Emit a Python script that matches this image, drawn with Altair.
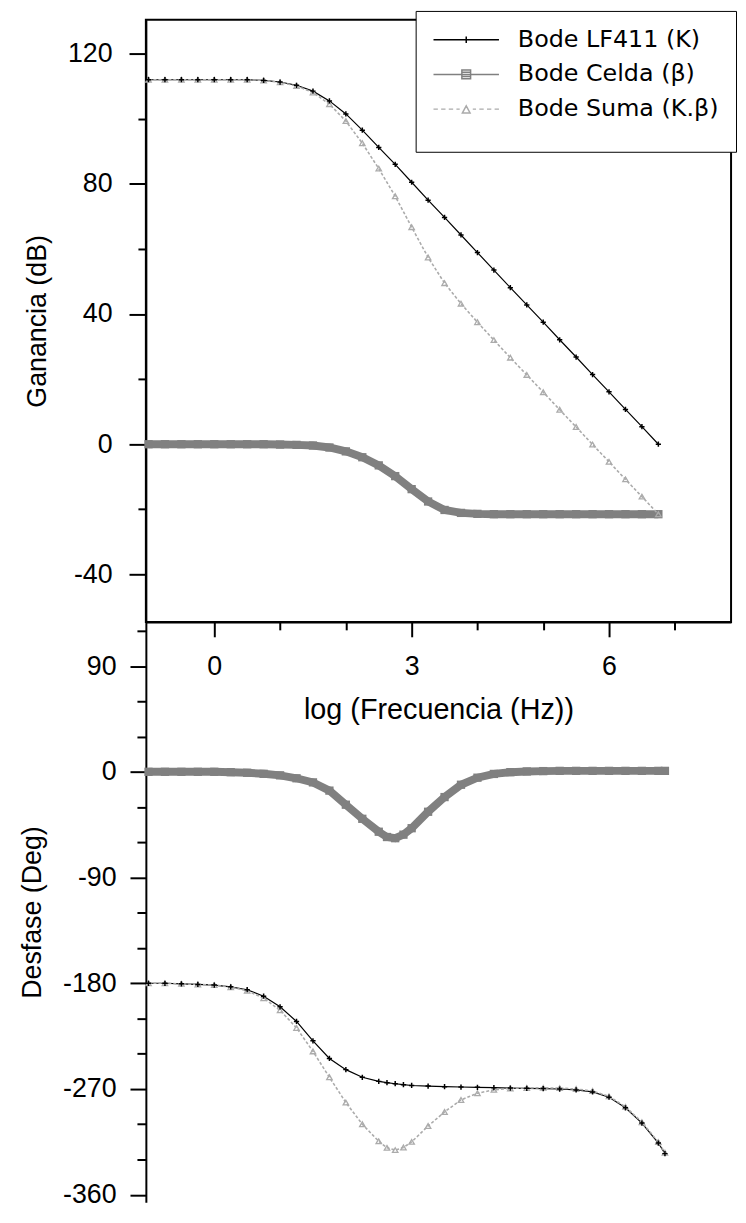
import altair as alt
import pandas as pd

# ---------------- data ----------------
LOG_F = [-1.0, -0.75, -0.5, -0.25, 0.0, 0.25, 0.5, 0.75, 1.0, 1.25, 1.5, 1.75, 2.0, 2.25,
         2.5, 2.75, 3.0, 3.25, 3.5, 3.75, 4.0, 4.25, 4.5, 4.75, 5.0, 5.25, 5.5, 5.75, 6.0,
         6.25, 6.5, 6.75]

GAIN_K = [112, 112, 112, 112, 112, 112, 112, 111.8, 111.3, 110.3, 108.5, 105.5, 101.5, 96.5,
          91.2, 86.0, 80.5, 75.0, 69.7, 64.3, 58.9, 53.5, 48.1, 42.8, 37.5, 32.1, 26.8, 21.4,
          16.1, 10.7, 5.4, 0.0]
GAIN_B = [0.0, 0.0, 0.0, 0.0, 0.0, 0.0, 0.0, 0.0, -0.1, -0.2, -0.4, -1.0, -2.2, -4.0, -6.5,
          -9.8, -13.8, -17.6, -20.2, -21.1, -21.4, -21.5, -21.5, -21.5, -21.5, -21.5, -21.5,
          -21.5, -21.5, -21.5, -21.5, -21.5]
GAIN_KB = [112, 112, 112, 112, 112, 112, 112, 111.8, 111.2, 110.1, 108.1, 104.5, 99.3, 92.5,
           84.7, 76.2, 66.7, 57.4, 49.5, 43.2, 37.5, 32.0, 26.6, 21.3, 16.0, 10.6, 5.3, -0.1,
           -5.4, -10.8, -16.1, -21.5]

LOG_F_PHASE = [-1.0, -0.75, -0.5, -0.25, 0.0, 0.25, 0.5, 0.75, 1.0, 1.25, 1.5, 1.75, 2.0,
               2.25, 2.5, 2.625, 2.75, 2.875, 3.0, 3.25, 3.5, 3.75, 4.0, 4.25, 4.5, 4.75, 5.0,
               5.25, 5.5, 5.75, 6.0, 6.25, 6.5, 6.75, 6.85]
PHASE_K = [-180, -180, -180.5, -181, -181.5, -183, -185.5, -191, -200, -212.5, -229, -244,
           -253.5, -260, -263.5, -264.6, -265.5, -266.3, -267, -267.5, -268, -268.3, -268.6,
           -268.9, -269.2, -269.4, -269.6, -270, -270.8, -272.5, -277, -286, -299, -316, -325]
PHASE_B = [0, 0, 0, 0, 0, -0.3, -0.8, -1.7, -3.0, -5.5, -9.0, -16.0, -28.0, -40.0, -51.0,
           -55.5, -56.5, -53.5, -48.0, -34.0, -21.5, -11.0, -5.0, -1.8, -0.3, 0.3, 0.6, 0.8,
           0.8, 0.8, 0.8, 0.8, 0.8, 0.8, 0.8]
PHASE_KB = [-180, -180, -180.5, -181, -181.5, -183.3, -186.3, -192.7, -203, -218, -238, -260,
            -281.5, -300, -314.5, -320.1, -322, -319.8, -315, -301.5, -289.5, -279.3, -273.6,
            -270.7, -269.5, -269.1, -269, -269.2, -270, -271.7, -276.2, -285.2, -298.2,
            -315.2, -324.2]

SERIES = ["Bode LF411  (K)", "Bode Celda (\u03b2)", "Bode Suma (K.\u03b2)"]
COLORS = ["#000000", "#808080", "#ababab"]

X_TICKS = [0, 1, 2, 3, 4, 5, 6, 7]
Y_GAIN_TICKS = [-40, -20, 0, 20, 40, 60, 80, 100, 120]
Y_PHASE_TICKS = [-360, -330, -300, -270, -240, -210, -180, -150, -120, -90, -60, -30, 0, 30,
                 60, 90, 120]

# legend symbols: line + marker, drawn as custom paths
LEGEND_PATHS = [
    "M-1,0H5M2,-0.3V0.3M1.7,0H2.3",
    "M-1,0H5M1.6,-0.4H2.4V0.4H1.6ZM1.6,-0.2H2.4M1.6,0.2H2.4",
    "M-1,0H-0.6M-0.3,0H0.1M0.4,0H0.8M1.1,0H1.4M1.65,0.35L2,-0.3L2.35,0.35ZM2.6,0H2.9"
    "M3.2,0H3.6M3.9,0H4.3M4.6,0H5",
]


def long_df(xs, cols):
    rows = []
    for name, ys in zip(SERIES, cols):
        for xv, yv in zip(xs, ys):
            rows.append({"x": xv, "y": yv, "series": name})
    return pd.DataFrame(rows)


gain_df = long_df(LOG_F, [GAIN_K, GAIN_B, GAIN_KB])
phase_df = long_df(LOG_F_PHASE, [PHASE_K, PHASE_B, PHASE_KB])

x_scale = alt.Scale(domain=[-1.04, 7.855], nice=False, zero=False)


def series_layers(base):
    k = base.transform_filter(alt.datum.series == SERIES[0])
    b = base.transform_filter(alt.datum.series == SERIES[1])
    kb = base.transform_filter(alt.datum.series == SERIES[2])
    return [
        b.mark_line(color=COLORS[1], strokeWidth=8),
        b.mark_square(color=COLORS[1], size=70, opacity=1),
        k.mark_line(color="black", strokeWidth=1.2),
        kb.mark_line(color=COLORS[2], strokeWidth=1.6, strokeDash=[3, 2]),
        kb.mark_point(shape="triangle-up", size=30, color=COLORS[2], filled=False,
                      strokeWidth=1.3, opacity=1),
        k.mark_point(shape="M-1,0H1M0,-1V1", size=28, color="black", filled=False,
                     strokeWidth=1.5, opacity=1),
    ]


# ---------------- top panel: gain ----------------
x_top = alt.X(
    "x:Q", scale=x_scale,
    axis=alt.Axis(
        values=X_TICKS, title="log (Frecuencia (Hz))",
        labelExpr="datum.value % 3 === 0 ? '' + datum.value : ''",
        tickSize={"condition": {"test": "datum.value % 3 === 0", "value": 15}, "value": 8},
        labelPadding=17, titlePadding=16, labelFlush=False, labelOverlap=False,
        titleFontSize=29,
    ),
)
y_top = alt.Y(
    "y:Q", scale=alt.Scale(domain=[-54.6, 130.4], nice=False, zero=False),
    axis=alt.Axis(
        values=Y_GAIN_TICKS, title="Ganancia (dB)",
        labelExpr="datum.value % 40 === 0 ? '' + datum.value : ''",
        tickSize={"condition": {"test": "datum.value % 40 === 0", "value": 17}, "value": 8},
        labelPadding=17, titlePadding=16, labelOverlap=False,
    ),
)
gain_base = alt.Chart(gain_df).encode(x=x_top, y=y_top)

leg = alt.Legend(
    title=" ", titleOrient="bottom", titleFontSize=14, titlePadding=0,
    orient="none", legendX=272, legendY=-9,
    strokeColor="black", fillColor="white", padding=17,
    labelFont="DejaVu Sans", labelFontSize=24, labelColor="black", labelLimit=400,
    symbolSize=484, symbolStrokeWidth=1.5, labelOffset=62, rowPadding=11,
)
legend_layer = gain_base.transform_filter("false").mark_point(
    filled=False, strokeWidth=1.5, opacity=1
).encode(
    shape=alt.Shape("series:N", scale=alt.Scale(domain=SERIES, range=LEGEND_PATHS), legend=leg),
    color=alt.Color("series:N", scale=alt.Scale(domain=SERIES, range=COLORS), legend=leg),
)

top = alt.layer(*series_layers(gain_base), legend_layer).properties(
    width=590, height=607,
    view=alt.ViewBackground(stroke="black", strokeWidth=2),
)

# ---------------- bottom panel: phase ----------------
y_bot = alt.Y(
    "y:Q", scale=alt.Scale(domain=[-366.3, 127.6], nice=False, zero=False),
    axis=alt.Axis(
        values=Y_PHASE_TICKS, title="Desfase (Deg)",
        labelExpr="datum.value % 90 === 0 ? '' + datum.value : ''",
        tickSize={"condition": {"test": "datum.value % 90 === 0", "value": 16}, "value": 9},
        labelPadding=14, titlePadding=16, labelOverlap=False,
    ),
)
phase_base = alt.Chart(phase_df).encode(x=alt.X("x:Q", scale=x_scale, axis=None), y=y_bot)
bottom = alt.layer(*series_layers(phase_base)).properties(width=590, height=585)

chart = (
    alt.vconcat(top, bottom, spacing=0, bounds="flush")
    .resolve_scale(color="independent", shape="independent")
    .properties(padding={"left": 10, "top": -4, "right": 0, "bottom": 0})
    .configure_view(stroke="transparent")
    .configure_axis(
        grid=False, domainColor="black", domainWidth=2, tickColor="black", tickWidth=2,
        labelFont="Liberation Sans", labelFontSize=27, labelColor="black",
        titleFont="Liberation Sans", titleFontSize=27, titleFontWeight="normal",
        titleColor="black",
    )
)

chart.save("out.html", embed_options={"renderer": "svg", "actions": False})
